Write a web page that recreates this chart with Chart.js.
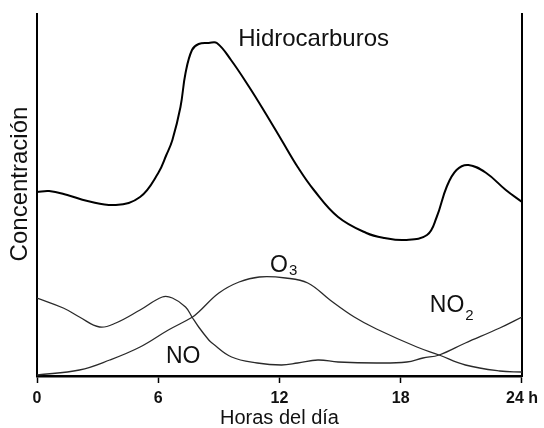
<!DOCTYPE html>
<html>
<head>
<meta charset="utf-8">
<script src="https://cdn.jsdelivr.net/npm/chart.js@4/dist/chart.umd.min.js"></script>
<style>
  html, body { margin: 0; padding: 0; background: #fff; }
  canvas { display: block; }
</style>
</head>
<body>
<canvas id="chart" width="544" height="428"></canvas>
<script>
// Hours of the day shown on the x axis
const xTicks = [0, 6, 12, 18, 24];

// Hydrocarbons (arbitrary concentration units)
const hcHours = [0, 0.6, 1.5, 2.5, 3.9, 5.1, 6.0, 6.4, 6.7, 7.1, 7.35, 7.67, 8.0, 8.5, 8.9, 9.6, 10.5, 11.3, 12.1, 12.9, 13.7, 14.9, 16.3, 17.2, 18.2, 19.3, 19.78, 20.27, 20.76, 21.35, 22.23, 23.2, 24];
const hcValues = [184, 185, 181, 175, 171, 179, 203, 221, 236, 269, 303, 326, 332, 333, 333, 316, 289, 263, 236, 209, 186, 159, 143, 138, 136, 141, 159, 189, 206, 211, 203, 186, 174];

// Ozone
const o3Hours = [0, 2.1, 3.6, 5.1, 6.5, 7.7, 8.0, 9.0, 10.0, 11.0, 12.3, 13.4, 14.5, 15.7, 16.8, 18.8, 19.9, 21.2, 22.9, 24];
const o3Values = [1, 6, 16, 29, 46, 59, 64, 83, 94, 99, 98, 93, 76, 59, 47, 29, 21, 11, 5, 4];

// NO in the morning, running on into NO2 in the evening (one line in the picture)
const noHours = [0, 1.3, 2.1, 3.1, 3.9, 5.1, 6.2, 6.7, 7.35, 7.67, 8.0, 8.5, 8.66, 9.63, 10.9, 12.1, 12.9, 13.9, 14.9, 16.8, 18.3, 19.1, 19.9, 21.2, 22.9, 24];
const noValues = [78, 68, 59, 49, 53, 66, 79, 78, 69, 59, 49, 36, 33, 19, 13, 11, 13, 16, 14, 13, 14, 18, 21, 33, 48, 59];

function toPoints(hours, values) {
    return hours.map((h, i) => ({ x: h, y: values[i] }));
}

const FONT = '"Liberation Sans", Arial, Helvetica, sans-serif';

// Text placed on the plot, anchored in data units (hours, concentration)
const plotLabels = [
    { text: 'Hidrocarburos', h: 9.96, v: 330, size: 24 },
    { text: 'O', sub: '3', h: 11.53, v: 104, size: 23, subDrop: 3 },
    { text: 'NO', h: 6.38, v: 13, size: 23 },
    { text: 'NO', sub: '2', h: 19.44, v: 64, size: 23, subDrop: 8 }
];

const labelPlugin = {
    id: 'plotLabels',
    afterDraw(chart) {
        const ctx = chart.ctx;
        const xs = chart.scales.x, ys = chart.scales.y;
        ctx.save();
        ctx.fillStyle = '#111';
        ctx.textBaseline = 'alphabetic';
        ctx.textAlign = 'left';
        plotLabels.forEach(l => {
            const px = xs.getPixelForValue(l.h);
            const py = ys.getPixelForValue(l.v);
            ctx.font = l.size + 'px ' + FONT;
            ctx.fillText(l.text, px, py);
            if (l.sub) {
                const w = ctx.measureText(l.text).width;
                ctx.font = '15px ' + FONT;
                ctx.fillText(l.sub, px + w + 1, py + l.subDrop);
            }
        });

        // y axis title, rotated
        ctx.font = '24px ' + FONT;
        ctx.textAlign = 'center';
        ctx.translate(27, ys.getPixelForValue(192));
        ctx.rotate(-Math.PI / 2);
        ctx.fillText('Concentración', 0, 0);
        ctx.restore();
    }
};

const lineStyle = {
    tension: 0.4,
    pointRadius: 0,
    fill: false
};

new Chart(document.getElementById('chart'), {
    type: 'line',
    data: {
        datasets: [{
            ...lineStyle,
            label: 'Hidrocarburos',
            data: toPoints(hcHours, hcValues),
            borderColor: '#000',
            borderWidth: 2
        }, {
            ...lineStyle,
            label: 'O3',
            data: toPoints(o3Hours, o3Values),
            borderColor: '#2a2a2a',
            borderWidth: 1.3
        }, {
            ...lineStyle,
            label: 'NO / NO2',
            data: toPoints(noHours, noValues),
            borderColor: '#2a2a2a',
            borderWidth: 1.3
        }]
    },
    options: {
        responsive: false,
        animation: false,
        layout: { padding: { left: 0, right: 18, top: 14, bottom: 0 } },
        plugins: {
            legend: { display: false },
            tooltip: { enabled: false }
        },
        scales: {
            x: {
                type: 'linear',
                min: 0,
                max: 24,
                afterBuildTicks: scale => { scale.ticks = xTicks.map(v => ({ value: v })); },
                afterFit: scale => { scale.height = 52; },
                ticks: {
                    padding: 6,
                    maxRotation: 0,
                    color: '#111',
                    font: { family: FONT, size: 16, weight: 'bold' },
                    callback: v => v === 24 ? '24 h' : String(v)
                },
                grid: {
                    drawOnChartArea: false,
                    drawTicks: true,
                    tickLength: 7,
                    tickColor: '#000',
                    tickWidth: 1.5
                },
                border: { display: true, color: '#000', width: 2.5 },
                title: {
                    display: true,
                    text: 'Horas del día',
                    color: '#111',
                    font: { family: FONT, size: 20, lineHeight: 1 },
                    padding: { top: 0, bottom: 0 }
                }
            },
            y: {
                min: 0,
                max: 362,
                afterFit: scale => { scale.width = 37; },
                ticks: { display: false },
                grid: { display: false },
                border: { display: true, color: '#000', width: 2 }
            },
            yRight: {
                position: 'right',
                afterFit: scale => { scale.width = 0; },
                ticks: { display: false },
                grid: { display: false },
                border: { display: true, color: '#000', width: 2 }
            }
        }
    },
    plugins: [labelPlugin]
});
</script>
</body>
</html>
